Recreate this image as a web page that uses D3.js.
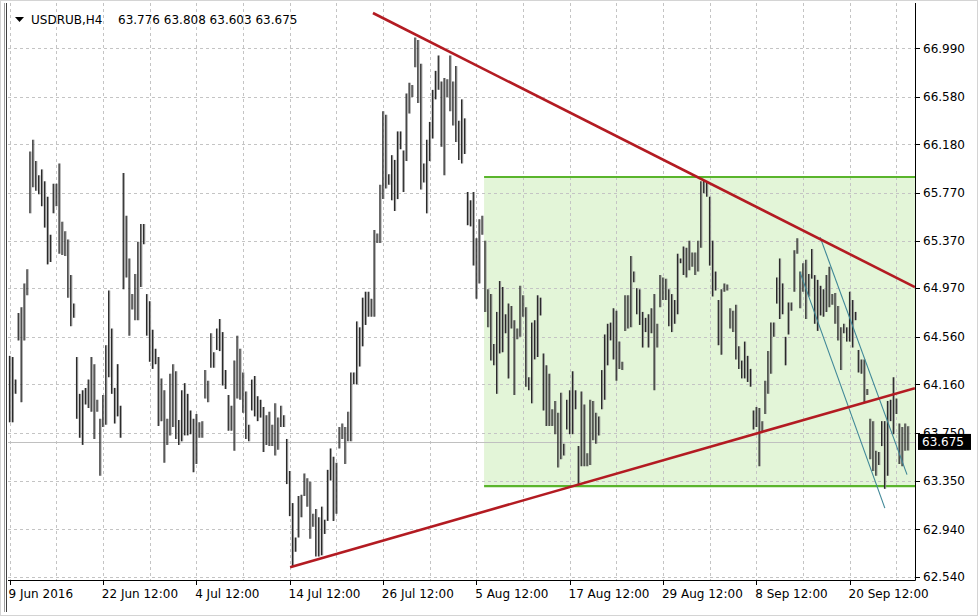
<!DOCTYPE html>
<html><head><meta charset="utf-8">
<script src="https://cdn.jsdelivr.net/npm/d3@7"></script>
<style>
body{margin:0;background:#fff}
svg{display:block}
text{font-family:"DejaVu Sans",sans-serif;font-size:12px;fill:#000}
</style>
</head><body>
<svg id="c" width="978" height="616"></svg>
<script>
// ---------- data ----------
const symbol = "USDRUB,H4";
const titleOHLC = ["63.776", "63.808", "63.603", "63.675"];
const lastPrice = 63.675;
const xTickBars = [0, 32, 64, 96, 128, 160, 192, 224, 256, 288];
const xTickLabels = ["9 Jun 2016", "22 Jun 12:00", "4 Jul 12:00", "14 Jul 12:00", "26 Jul 12:00",
  "5 Aug 12:00", "17 Aug 12:00", "29 Aug 12:00", "8 Sep 12:00", "20 Sep 12:00"];
const yTickValues = [66.990, 66.580, 66.180, 65.770, 65.370, 64.970, 64.560, 64.160, 63.750, 63.350, 62.940, 62.540];

const highs = [
64.40,64.39,64.20,64.76,64.81,65.01,65.13,66.12,66.22,66.04,65.92,65.97,65.87,65.74,65.42,65.85,65.85,66.02,65.53,65.45,
65.38,65.08,64.84,64.39,64.08,64.11,64.13,64.20,64.39,64.33,64.03,63.87,64.07,64.49,64.95,64.63,64.13,64.33,63.98,65.94,
65.58,65.22,64.92,65.09,65.36,65.51,65.51,64.92,64.86,64.62,64.46,64.39,64.21,64.11,63.87,64.25,64.33,64.27,63.86,64.11,
64.17,64.08,63.94,63.87,63.91,63.84,63.85,64.28,64.19,64.59,64.43,64.63,64.71,64.60,64.28,64.07,63.98,64.36,64.57,64.46,
64.26,64.10,63.82,64.20,64.23,64.06,64.03,63.97,63.90,63.93,63.82,64.00,63.88,63.98,63.90,63.70,63.43,63.16,62.87,63.22,
63.23,63.41,63.37,63.34,63.07,63.11,63.04,63.13,63.02,63.44,63.62,63.55,63.50,63.80,63.83,63.80,63.93,64.26,64.26,64.69,
64.64,64.89,64.94,64.94,64.88,65.46,65.43,65.84,66.46,66.43,65.93,66.09,66.05,66.29,66.29,66.13,66.61,66.70,66.68,67.08,
67.06,66.86,66.02,66.22,66.37,66.64,66.80,66.93,66.71,66.74,66.73,66.93,66.71,66.84,66.38,66.56,66.40,65.78,65.71,65.78,
65.39,65.55,65.58,65.37,64.96,64.92,64.50,64.77,65.03,64.98,64.75,64.84,64.82,64.70,64.63,64.99,64.91,64.81,64.22,64.68,
64.70,64.91,64.89,64.42,64.32,64.25,63.95,64.02,63.92,64.09,63.66,64.03,64.11,64.27,64.11,63.64,64.10,63.99,63.58,64.03,
64.02,63.92,63.89,64.28,64.58,64.67,64.68,64.80,64.78,64.52,64.35,64.91,64.91,65.24,65.11,64.97,64.96,64.77,64.72,64.75,
64.80,64.92,64.67,65.08,65.06,65.05,64.96,64.92,64.87,65.26,65.22,65.32,65.31,65.37,65.27,65.27,65.37,65.87,65.88,65.86,
65.74,65.37,65.11,64.87,64.96,65.01,65.00,64.80,64.78,64.83,64.48,64.36,64.52,64.40,64.29,63.94,63.97,63.96,63.85,64.19,
64.44,64.68,64.68,65.06,65.22,65.01,64.56,64.85,64.85,65.29,65.39,65.11,65.18,65.21,65.09,65.30,65.08,65.04,64.99,64.96,
65.08,65.15,64.92,64.93,64.82,64.64,64.67,64.64,64.94,64.87,64.77,64.45,64.37,64.37,64.12,63.87,63.85,63.60,63.59,63.85,
63.85,64.02,64.03,64.22,64.04,63.83,63.80,63.83,63.808];
const lows = [
63.84,63.84,64.08,64.53,64.01,64.53,64.91,65.60,65.82,65.79,65.76,65.66,65.48,65.17,65.19,65.60,65.66,65.26,65.25,65.24,
64.89,64.65,64.72,63.87,63.71,63.65,63.99,63.96,63.93,63.70,63.93,63.39,63.80,63.82,64.22,64.08,63.83,63.89,63.71,64.96,
65.06,64.57,64.79,64.70,64.70,64.98,65.34,64.57,64.35,64.29,64.33,63.81,63.85,63.50,63.65,63.73,63.80,63.70,63.65,63.68,
63.73,63.73,63.74,63.42,63.49,63.71,63.71,64.04,64.01,64.30,64.30,64.45,64.44,64.15,64.12,63.77,63.77,63.60,64.04,64.03,
63.92,63.70,63.68,63.94,63.89,63.85,63.88,63.59,63.65,63.64,63.64,63.56,63.61,63.80,63.80,63.32,63.05,62.63,62.75,62.87,
63.04,63.22,63.13,62.86,62.96,62.71,62.71,62.72,62.90,63.01,63.35,63.01,63.07,63.62,63.70,63.49,63.68,63.68,64.16,64.16,
64.31,64.48,64.66,64.73,64.73,64.73,65.35,65.35,65.72,65.81,65.84,65.71,65.62,65.72,66.14,65.78,66.04,66.44,66.58,66.83,
66.53,65.80,65.86,65.60,66.04,66.23,66.56,66.64,66.16,65.92,66.58,66.46,66.34,66.20,66.05,66.02,66.10,65.50,65.49,65.16,
64.88,65.01,65.42,64.77,64.64,64.36,64.32,64.08,64.42,64.43,64.59,64.21,64.63,64.07,64.54,64.56,64.73,64.14,64.11,64.00,
64.37,64.39,64.74,63.94,63.81,63.81,63.81,63.74,63.46,63.53,63.56,63.78,63.74,63.74,63.95,63.31,63.47,63.47,63.47,63.48,
63.69,63.66,63.73,63.95,64.03,64.32,64.53,64.37,64.19,64.29,64.28,64.61,64.63,64.64,65.02,64.75,64.66,64.47,64.60,64.47,
64.59,64.11,64.47,64.81,64.87,64.87,64.65,64.60,64.67,64.75,65.18,65.08,65.06,65.12,65.15,65.08,65.11,65.31,65.77,65.74,
65.16,64.90,64.95,64.49,64.41,64.94,64.95,64.63,64.60,64.37,64.29,64.21,64.21,64.18,64.14,63.78,63.80,63.47,63.76,63.91,
64.08,64.25,64.56,64.84,64.71,64.75,64.32,64.58,64.78,64.94,65.26,64.80,64.94,64.71,64.90,65.05,64.67,64.61,64.74,64.73,
64.77,64.81,64.83,64.67,64.53,64.28,64.59,64.52,64.52,64.47,64.70,64.26,64.25,64.01,64.07,63.53,63.43,63.39,63.48,63.64,
63.28,63.39,63.85,63.74,63.91,63.49,63.47,63.60,63.603];

// analysis objects (bar index, price)
const resistanceLine = [[124.6, 67.287], [310.4, 64.979]];
const supportLine = [[96.2, 62.62], [310.4, 64.128]];
const channelUpper = [[277.9, 65.40], [307.7, 63.40]];
const channelLower = [[271.0, 65.105], [300.1, 63.117]];
const rangeBox = {fromBar: 162.7, toBar: 320, top: 65.906, bottom: 63.303};

// ---------- layout ----------
const svg = d3.select("#c");
const L = 8, T = 3, R = 915, B = 580;
const x = d3.scaleLinear().domain([0, 308]).range([9.5, 907.9]);
const y = d3.scaleLinear().domain([62.54, 66.99]).range([576.7, 48.3]);

// window frame
svg.append("rect").attr("x",0.5).attr("y",0.5).attr("width",977).attr("height",615).attr("fill","#fff").attr("stroke","#d4d4d4");
svg.append("line").attr("x1",L-3.5).attr("x2",L-3.5).attr("y1",T).attr("y2",612).attr("stroke","#a0a0a0");
svg.append("line").attr("x1",L-1.5).attr("x2",L-1.5).attr("y1",T).attr("y2",612).attr("stroke","#404040");

svg.append("defs").append("clipPath").attr("id","clip").append("rect")
  .attr("x",L).attr("y",T).attr("width",R-L).attr("height",B-T);
const plot = svg.append("g").attr("clip-path","url(#clip)");

// range box (background object)
plot.append("rect")
  .attr("x", x(rangeBox.fromBar)).attr("y", y(rangeBox.top))
  .attr("width", x(rangeBox.toBar) - x(rangeBox.fromBar))
  .attr("height", y(rangeBox.bottom) - y(rangeBox.top))
  .attr("fill", "#e3f5d8");

// grid
const gridBars = d3.range(0, 312, 16);
plot.selectAll(".vg").data(gridBars).join("line")
  .attr("x1", d => Math.round(x(d)) + 0.5).attr("x2", d => Math.round(x(d)) + 0.5)
  .attr("y1", T).attr("y2", B)
  .attr("stroke", "#c4c4c4").attr("stroke-dasharray", "3,3");
plot.selectAll(".hg").data(yTickValues).join("line")
  .attr("y1", d => Math.round(y(d)) + 0.5).attr("y2", d => Math.round(y(d)) + 0.5)
  .attr("x1", L).attr("x2", R)
  .attr("stroke", "#c4c4c4").attr("stroke-dasharray", "3,3");

// box borders
[rangeBox.top, rangeBox.bottom].forEach(v => {
  plot.append("line").attr("x1", x(rangeBox.fromBar)).attr("x2", x(rangeBox.toBar))
    .attr("y1", y(v)).attr("y2", y(v)).attr("stroke", "#5ab52c").attr("stroke-width", 2.2);
});

// last price line
plot.append("line").attr("x1", L).attr("x2", R)
  .attr("y1", Math.round(y(lastPrice)) + 0.5).attr("y2", Math.round(y(lastPrice)) + 0.5)
  .attr("stroke", "#c0c0c0");

// bars
const idx = d3.range(highs.length);
plot.selectAll(".bs").data(idx).join("line")
  .attr("x1", i => x(i) + 1.1).attr("x2", i => x(i) + 1.1)
  .attr("y1", i => y(highs[i])).attr("y2", i => y(lows[i]))
  .attr("stroke", "#9a9a9a").attr("stroke-width", 1);
plot.selectAll(".b").data(idx).join("line")
  .attr("x1", i => x(i)).attr("x2", i => x(i))
  .attr("y1", i => y(highs[i])).attr("y2", i => y(lows[i]))
  .attr("stroke", "#2a2a2a").attr("stroke-width", 1.3);

// trend lines
function seg(pts, color, w) {
  plot.append("line")
    .attr("x1", x(pts[0][0])).attr("y1", y(pts[0][1]))
    .attr("x2", x(pts[1][0])).attr("y2", y(pts[1][1]))
    .attr("stroke", color).attr("stroke-width", w);
}
seg(channelUpper, "#3f8797", 1.1);
seg(channelLower, "#3f8797", 1.1);
seg(resistanceLine, "#b31b22", 2.6);
seg(supportLine, "#b31b22", 2.6);

// axes lines
svg.append("line").attr("x1", R + 0.5).attr("x2", R + 0.5).attr("y1", T).attr("y2", B + 0.5).attr("stroke", "#000");
svg.append("line").attr("x1", L).attr("x2", R + 0.5).attr("y1", B + 0.5).attr("y2", B + 0.5).attr("stroke", "#000");

// right axis
const ya = svg.append("g");
ya.selectAll("line").data(yTickValues).join("line")
  .attr("x1", R).attr("x2", R + 5)
  .attr("y1", d => Math.round(y(d)) + 0.5).attr("y2", d => Math.round(y(d)) + 0.5)
  .attr("stroke", "#000");
ya.selectAll("text").data(yTickValues).join("text")
  .attr("x", R + 8).attr("y", d => y(d)).attr("dy", "0.36em")
  .text(d => d3.format(".3f")(d));

// bottom axis
const xa = svg.append("g");
xa.selectAll("line").data(xTickBars).join("line")
  .attr("x1", d => Math.round(x(d)) + 0.5).attr("x2", d => Math.round(x(d)) + 0.5)
  .attr("y1", B).attr("y2", B + 5).attr("stroke", "#000");
xa.selectAll("text").data(xTickBars).join("text")
  .attr("x", d => x(d) - 1).attr("y", 598)
  .text((d, i) => xTickLabels[i]);

// last price label
const ly = y(lastPrice);
svg.append("rect").attr("x", R + 3).attr("y", ly - 8).attr("width", 53).attr("height", 16).attr("fill", "#000");
svg.append("text").attr("x", R + 7).attr("y", ly).attr("dy", "0.36em").style("fill", "#fff")
  .text(d3.format(".3f")(lastPrice));

// title
svg.append("path").attr("d", "M15,17 L24,17 L19.5,22 Z").attr("fill", "#000");
svg.append("text").attr("x", 31).attr("y", 24).text(symbol);
svg.append("text").attr("x", 118).attr("y", 24).text(titleOHLC.join(" "));
</script>
</body></html>
